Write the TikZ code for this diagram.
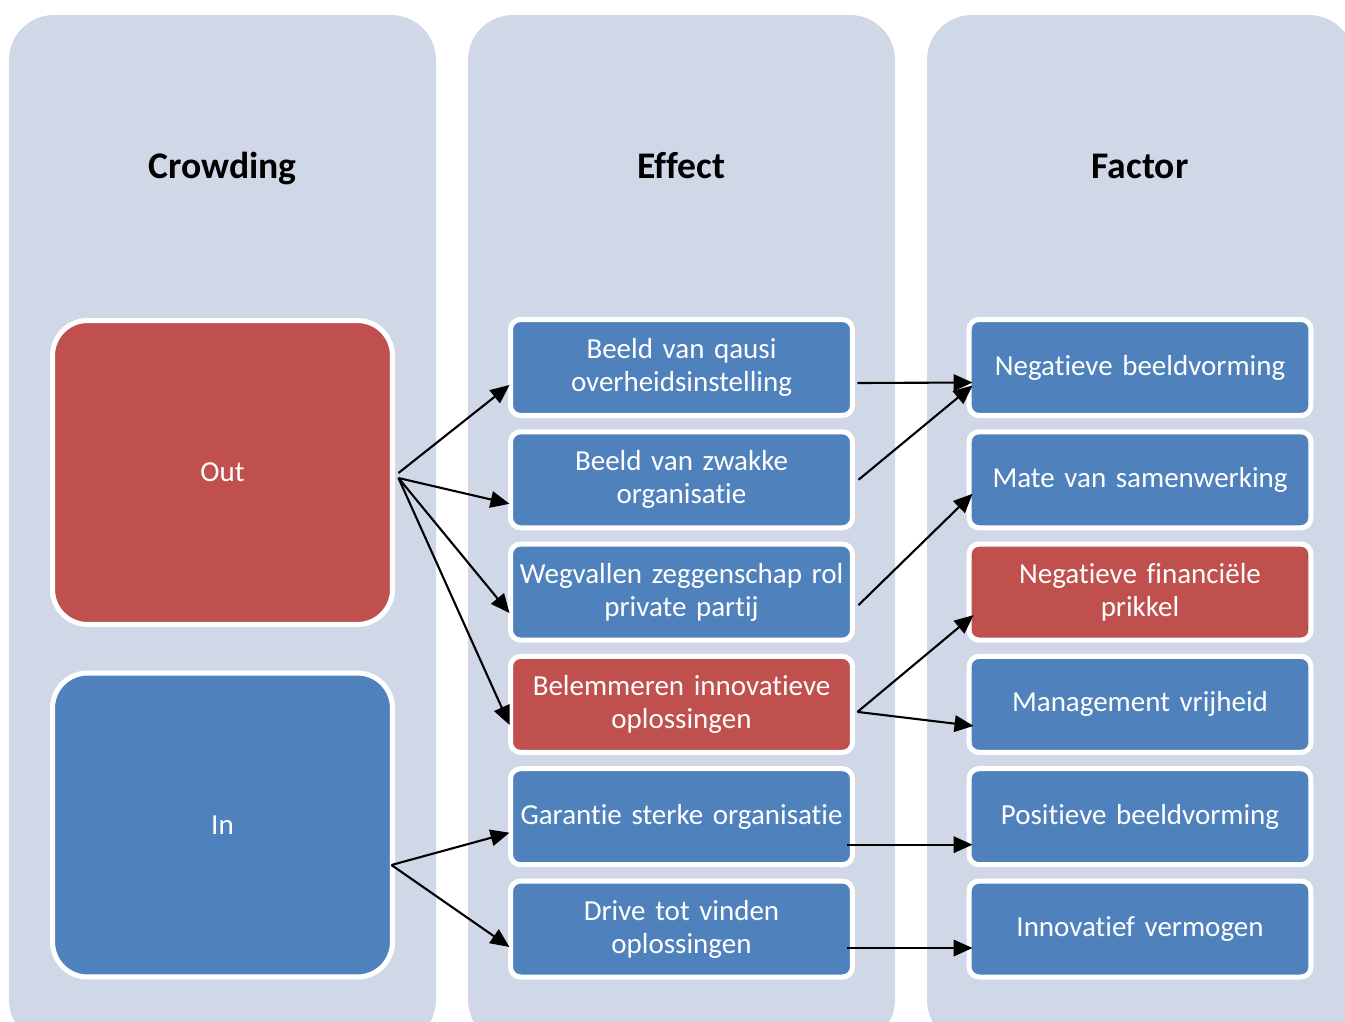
\documentclass[tikz,border=0pt]{standalone}
\usepackage{fontspec}
\setmainfont{Carlito}[Ligatures=NoCommon]
\usepackage{tikz}
\usetikzlibrary{arrows.meta}
\usetikzlibrary{positioning}

\definecolor{colbg}{RGB}{208,216,232}
\definecolor{boxblue}{RGB}{79,129,189}
\definecolor{boxred}{RGB}{192,80,77}

\tikzset{
  coltitle/.style={anchor=base, font=\bfseries\fontsize{21.4}{26}\selectfont},
  bigbox/.style={draw=white, line width=2.85pt, rounded corners=0.7cm,
    minimum width=6.8cm, minimum height=6.08cm, inner sep=0pt,
    text=white, font=\fontsize{16.5}{18.7}\selectfont},
  effbox/.style={draw=white, line width=2.85pt, rounded corners=0.2cm,
    minimum width=6.84cm, minimum height=1.92cm, text width=6.7cm,
    align=center, inner sep=0pt, text=white,
    font=\fontsize{16.5}{18.7}\selectfont},
  arr/.style={line width=1.2pt, -{Triangle[length=0.38cm,width=0.33cm]}}
}

\begin{document}
\begin{tikzpicture}[x=0.02cm, y=-0.02cm]
    \useasboundingbox (0,0) rectangle (1345,1021);
    \clip (0,0) rectangle (1345,1021);
    \foreach \x in {9,468,927}
      {
        \fill[colbg, rounded corners=0.9cm] (\x,15) rectangle (\x+427,1045);
      }
    \node[coltitle] (crowding) at (222.5,178) {Crowding};
    \node[coltitle] (effect) at (681.5,178) {Effect};
    \node[coltitle] (factor) at (1140,178) {Factor};

    \node[bigbox, fill=boxred] (out) at (222.5,472.5) {Out};
    \node[bigbox, fill=boxblue] (in) at (222.5,825) {In};

    \node[effbox, fill=boxblue] (e1) at (681.5,367.5) {Beeld van qausi\\overheidsinstelling};
    \node[effbox, fill=boxblue] (e2) at (681.5,479.8) {Beeld van zwakke\\organisatie};
    \node[effbox, fill=boxblue] (e3) at (681.5,592.1) {Wegvallen zeggenschap rol\\private partij};
    \node[effbox, fill=boxred] (e4) at (681.5,704.4) {Belemmeren innovatieve\\oplossingen};
    \node[effbox, fill=boxblue] (e5) at (681.5,816.7) {Garantie sterke organisatie};
    \node[effbox, fill=boxblue] (e6) at (681.5,929) {Drive tot vinden\\oplossingen};

    \node[effbox, fill=boxblue] (f1) at (1140,367.5) {Negatieve beeldvorming};
    \node[effbox, fill=boxblue] (f2) at (1140,479.8) {Mate van samenwerking};
    \node[effbox, fill=boxred] (f3) at (1140,592.1) {Negatieve financiële\\prikkel};
    \node[effbox, fill=boxblue] (f4) at (1140,704.4) {Management vrijheid};
    \node[effbox, fill=boxblue] (f5) at (1140,816.7) {Positieve beeldvorming};
    \node[effbox, fill=boxblue] (f6) at (1140,929) {Innovatief vermogen};

    \draw[arr] ([shift={(3.5,0.5)}]out.east) -- ([shift={(1.5,17.5)}]e1.west);
    \draw[arr] ([shift={(3.5,5.5)}]out.east) -- ([shift={(1.5,24)}]e2.west);
    \draw[arr] ([shift={(3.5,5.5)}]out.east) -- ([shift={(1.5,21)}]e3.west);
    \draw[arr] ([shift={(3.5,5.5)}]out.east) -- ([shift={(1.5,20.5)}]e4.west);
    \draw[arr] ([shift={(-3.5,40)}]in.east) -- ([shift={(1.5,16)}]e5.west);
    \draw[arr] ([shift={(-3.5,40)}]in.east) -- ([shift={(1.5,18)}]e6.west);

    \draw[arr] ([shift={(2.5,15.5)}]e1.east) -- ([shift={(6,15)}]f1.west);
    \draw[arr] ([shift={(3.5,0)}]e2.east) -- ([shift={(6,18)}]f1.west);
    \draw[arr] ([shift={(3.5,13)}]e3.east) -- ([shift={(6,14)}]f2.west);
    \draw[arr] ([shift={(2.5,7.5)}]e4.east) -- ([shift={(7,23)}]f3.west);
    \draw[arr] ([shift={(2.5,7.5)}]e4.east) -- ([shift={(7,21.5)}]f4.west);
    \draw[arr] ([shift={(-7.5,28)}]e5.east) -- ([shift={(6,28)}]f5.west);
    \draw[arr] ([shift={(-7.5,19)}]e6.east) -- ([shift={(6,19)}]f6.west);
  \end{tikzpicture}
\end{document}
